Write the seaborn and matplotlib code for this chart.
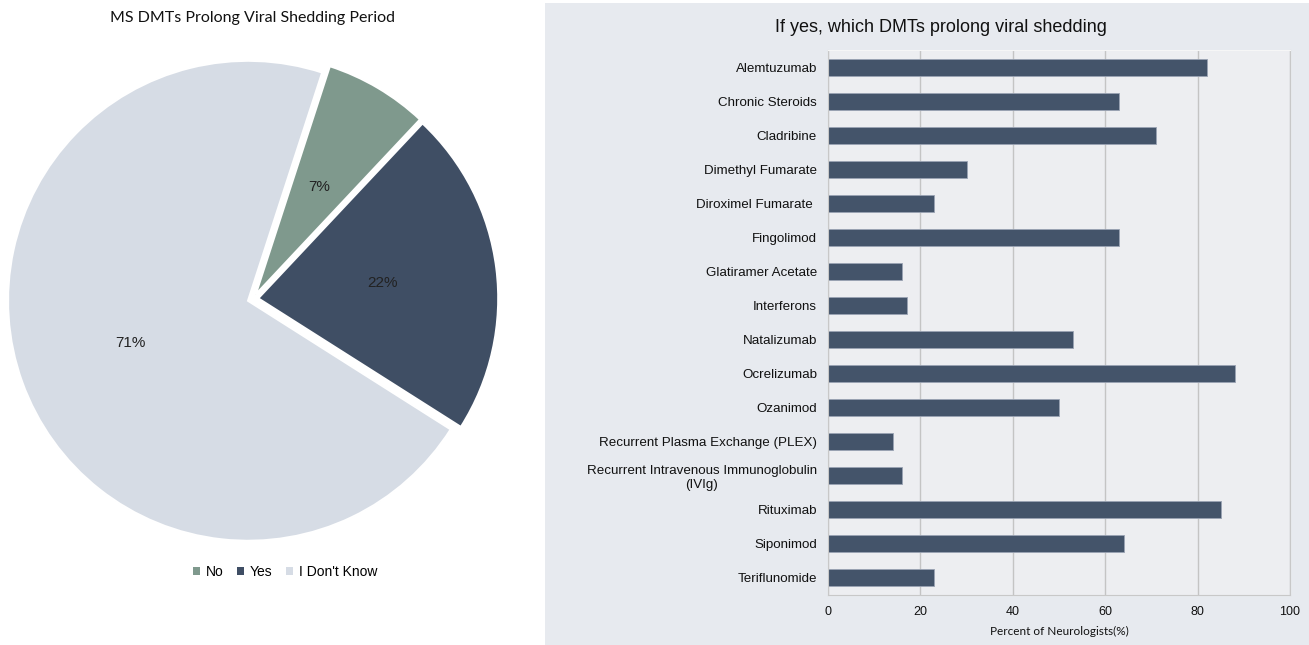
import matplotlib
matplotlib.use("Agg")
import matplotlib.pyplot as plt
import seaborn as sns
import pandas as pd

# Pie data
pie_labels = ["No", "Yes", "I Don't Know"]
pie_values = [7, 22, 71]
pie_colors = ["#7F998D", "#3F4E64", "#D6DCE5"]

# Bar data
drugs = [
    "Alemtuzumab", "Chronic Steroids", "Cladribine", "Dimethyl Fumarate",
    "Diroximel Fumarate ", "Fingolimod", "Glatiramer Acetate", "Interferons",
    "Natalizumab", "Ocrelizumab", "Ozanimod",
    "Recurrent Plasma Exchange (PLEX)",
    "Recurrent Intravenous Immunoglobulin\n(IVIg)",
    "Rituximab", "Siponimod", "Teriflunomide",
]
percent = [82, 63, 71, 30, 23, 63, 16, 17, 53, 88, 50, 14, 16, 85, 64, 23]
x_ticks = [0, 20, 40, 60, 80, 100]

plt.rcParams["font.family"] = ["Liberation Sans", "DejaVu Sans"]

W, H = 1309, 645
fig = plt.figure(figsize=(W / 100, H / 100), dpi=100)
fig.patch.set_facecolor("white")

# right-hand panel background
bg = fig.add_axes([545 / W, 0, (W - 545) / W, 1 - 3 / H], zorder=-10)
bg.set_facecolor("#E7EAEF")
bg.set_xticks([])
bg.set_yticks([])
for s in bg.spines.values():
    s.set_visible(False)

# ---- Pie chart ----
R = 240
cx, cy = 253, 299
ax1 = fig.add_axes([0, 0, 545 / W, 1])
ax1.pie(pie_values, colors=pie_colors, startangle=72, counterclock=False,
        explode=[0.022, 0.022, 0.022], autopct="%d%%", pctdistance=0.52,
        wedgeprops=dict(edgecolor="white", linewidth=1.5),
        textprops=dict(fontsize=11, color="#222222"))
ax1.set_xlim(-cx / R, (545 - cx) / R)
ax1.set_ylim(-(H - cy) / R, cy / R)
ax1.set_aspect("auto")
ax1.axis("off")
fig.text(253 / W, 1 - 18 / H, "MS DMTs Prolong Viral Shedding Period",
         ha="center", va="center", fontsize=11.5, family=["Lato", "DejaVu Sans"],
         color="#111111")
handles = [plt.Rectangle((0, 0), 1, 1, facecolor=c) for c in pie_colors]
fig.legend(handles, pie_labels, loc="center", bbox_to_anchor=(285 / W, 1 - 572 / H),
           ncol=3, frameon=False, fontsize=10, handlelength=0.5, handleheight=0.5,
           handletextpad=0.4, columnspacing=1.0)

# ---- Bar chart ----
df = pd.DataFrame({"Drug": drugs, "Percent": percent})
ax2 = fig.add_axes([828 / W, 50 / H, 462 / W, 545 / H])
ax2.set_facecolor("#EDEEF1")
sns.barplot(data=df, x="Percent", y="Drug", orient="h", color="#44546A",
            width=0.5, saturation=1, edgecolor="#9AA3B3", linewidth=0.6, ax=ax2)
ax2.set_xlim(0, 100)
ax2.set_xticks(x_ticks)
ax2.grid(axis="x", color="#C4C4C4", linewidth=1)
ax2.set_axisbelow(True)
for s in ["left", "bottom", "right"]:
    ax2.spines[s].set_color("#C8C8C8")
ax2.spines["top"].set_color("#F6F6F6")
ax2.tick_params(length=0, labelsize=9.6, colors="#111111")
ax2.tick_params(axis="y", pad=8)
ax2.tick_params(axis="x", labelsize=9, pad=8)
for lab in ax2.get_yticklabels():
    lab.set_multialignment("center")
ax2.set_ylabel("")
ax2.set_xlabel("Percent of Neurologists(%)", fontsize=8.5, family=["Lato", "DejaVu Sans"],
               labelpad=6, color="#111111")
fig.text(941 / W, 1 - 27 / H, "If yes, which DMTs prolong viral shedding",
         ha="center", va="center", fontsize=13, color="#111111")

fig.savefig("out.png", dpi=100)
